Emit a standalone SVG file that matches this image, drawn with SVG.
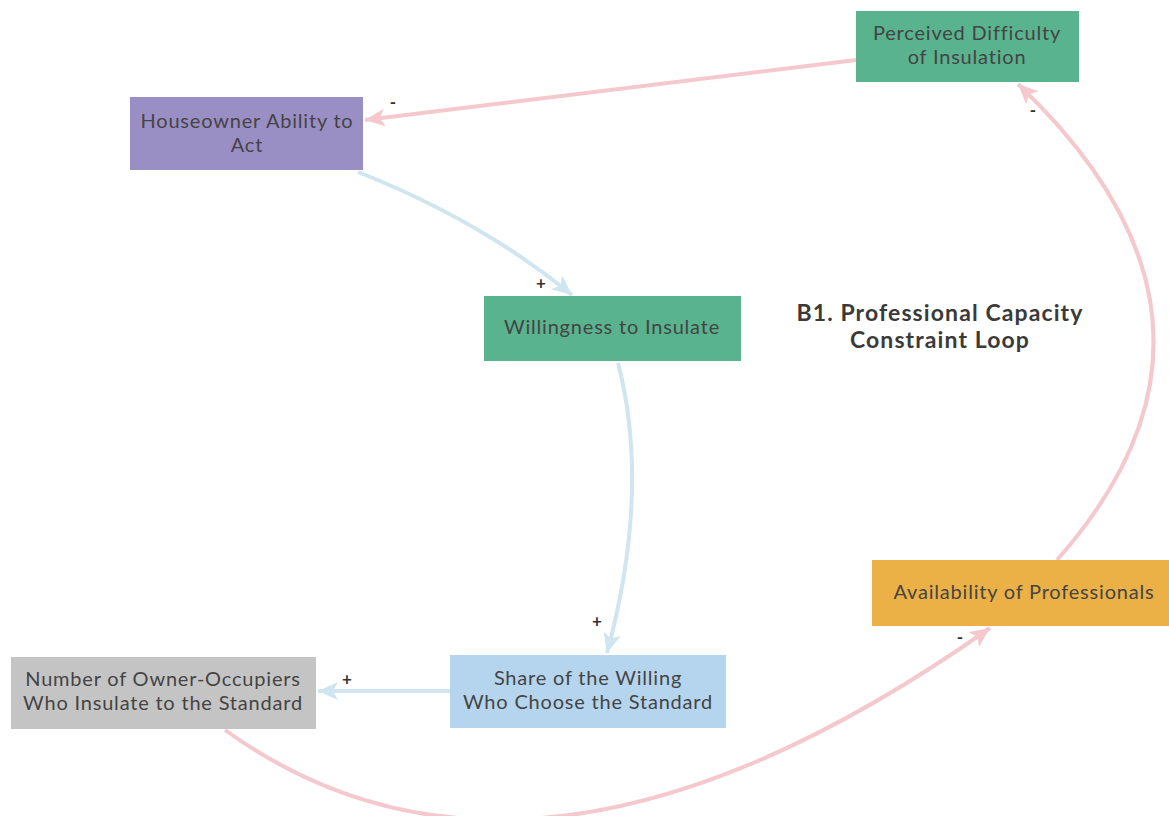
<svg xmlns="http://www.w3.org/2000/svg" width="1169" height="816" viewBox="0 0 1169 816">
<style>
.n text{font-family:Lato,"Open Sans","Liberation Sans",sans-serif;font-size:20px;letter-spacing:0.8px;fill:#444;text-anchor:middle}
.pos{fill:none;stroke:#cfe5ef;stroke-width:4}
.neg{fill:none;stroke:#f4c8cd;stroke-width:4}
.lbl{font-family:Lato,"Liberation Sans",sans-serif;font-size:17px;font-weight:bold;fill:#333;text-anchor:middle}
.title{font-family:Lato,"Liberation Sans",sans-serif;font-size:23px;letter-spacing:1.1px;font-weight:bold;fill:#3a3a3a;text-anchor:middle}
</style>
<defs>
<marker id="ab" markerUnits="userSpaceOnUse" markerWidth="22" markerHeight="20" refX="20" refY="9" orient="auto">
<path d="M0,0 L20,9 L0,18 L5,9 z" fill="#cfe5ef"/>
</marker>
<marker id="ar" markerUnits="userSpaceOnUse" markerWidth="22" markerHeight="20" refX="20" refY="9" orient="auto">
<path d="M0,0 L20,9 L0,18 L5,9 z" fill="#f4c8cd"/>
</marker>
</defs>
<rect width="1169" height="816" fill="#fff"/>
<g id="connectors">
<path class="neg" d="M856,60 L365,120" marker-end="url(#ar)"/>
<path class="pos" d="M358,172 Q480,220 572,295" marker-end="url(#ab)"/>
<path class="pos" d="M618,363 Q651,490 607,653" marker-end="url(#ab)"/>
<path class="pos" d="M450,691 L318,691" marker-end="url(#ab)"/>
<path class="neg" d="M225,730 Q532,951 990,628" marker-end="url(#ar)"/>
<path class="neg" d="M1057,560 Q1268,322 1018,84" marker-end="url(#ar)"/>
<text class="lbl" x="393" y="108">-</text>
<text class="lbl" x="541" y="289">+</text>
<text class="lbl" x="597" y="627">+</text>
<text class="lbl" x="347" y="685">+</text>
<text class="lbl" x="960" y="643">-</text>
<text class="lbl" x="1033" y="116">-</text>
</g>
<g id="n-perceived" class="n">
<rect x="856" y="11" width="223" height="71" fill="#59b38e"/>
<text x="967" y="40">Perceived Difficulty</text>
<text x="967" y="64">of Insulation</text>
</g>
<g id="n-houseowner" class="n">
<rect x="130" y="97" width="233" height="73" fill="#9a8fc4"/>
<text x="247" y="128">Houseowner Ability to</text>
<text x="247" y="152">Act</text>
</g>
<g id="n-willingness" class="n">
<rect x="484" y="296" width="257" height="65" fill="#59b38e"/>
<text x="612" y="334">Willingness to Insulate</text>
</g>
<g id="n-share" class="n">
<rect x="450" y="655" width="276" height="73" fill="#b5d5ee"/>
<text x="588" y="685">Share of the Willing</text>
<text x="588" y="709">Who Choose the Standard</text>
</g>
<g id="n-number" class="n">
<rect x="11" y="657" width="305" height="72" fill="#c4c4c4"/>
<text x="163" y="686">Number of Owner-Occupiers</text>
<text x="163" y="710">Who Insulate to the Standard</text>
</g>
<g id="n-availability" class="n">
<rect x="872" y="560" width="297" height="66" fill="#ebb146"/>
<text x="1024" y="599">Availability of Professionals</text>
</g>
<g id="title">
<text class="title" x="940" y="321">B1. Professional Capacity</text>
<text class="title" x="940" y="348">Constraint Loop</text>
</g>
</svg>
